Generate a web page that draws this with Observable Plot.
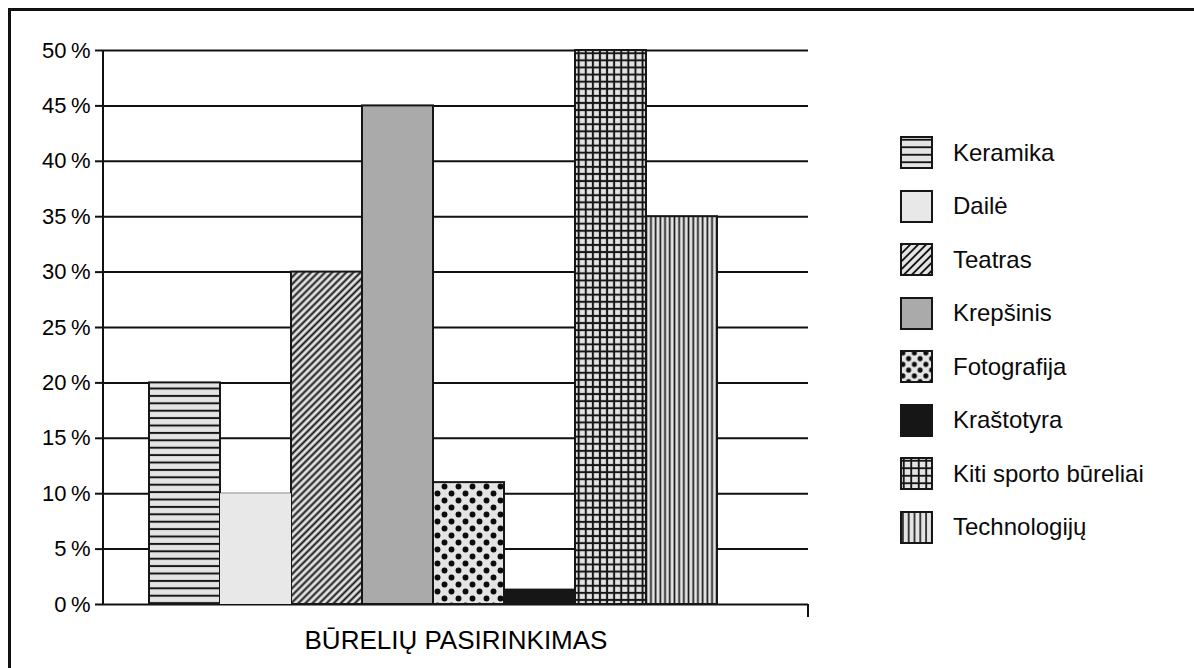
<!DOCTYPE html>
<html>
<head>
<meta charset="utf-8">
<script src="https://cdn.jsdelivr.net/npm/d3@7"></script>
<script src="https://cdn.jsdelivr.net/npm/@observablehq/plot@0.6"></script>
<style>
  body { margin: 0; background: #fff; font-family: "Liberation Sans", Arial, sans-serif; }
  #wrap { position: relative; width: 1194px; height: 668px; overflow: hidden; background: #fff; }
  #border { position: absolute; left: 8px; top: 8px; width: 1400px; height: 900px;
            border-top: 3px solid #111; border-left: 3px solid #111; pointer-events: none; }
  #chart { position: absolute; left: 0; top: 0; }
  #legend { position: absolute; left: 900px; top: 126px; }
  .item { display: flex; align-items: center; height: 53.5px; }
  .item svg { display: block; }
  .item span { margin-left: 20px; font-size: 24px; color: #0a0a0a; }
</style>
</head>
<body>
<div id="wrap">
  <div id="chart"></div>
  <div id="legend"></div>
  <div id="border"></div>
</div>
<script>
// ---- data ----
const clubs = ["Keramika", "Dailė", "Teatras", "Krepšinis", "Fotografija", "Kraštotyra", "Kiti sporto būreliai", "Technologijų"];
const shares = [20, 10, 30, 45, 11, 1.3, 50, 35];
const yTicks = [0, 5, 10, 15, 20, 25, 30, 35, 40, 45, 50];
const xLabel = "BŪRELIŲ PASIRINKIMAS";

const data = clubs.map((c, i) => ({ club: c, share: shares[i] }));

// ---- styles ----
const ink = "#161616";
const light = "#e4e4e4";
const fillKeys = ["kera", null, "teat", null, "foto", null, "kiti", "tech"];
const solid = { "Dailė": "#e8e8e8", "Krepšinis": "#aaaaaa", "Kraštotyra": "#161616" };
function fillFor(prefix, i) {
  return fillKeys[i] ? `url(#${prefix}${fillKeys[i]})` : solid[clubs[i]];
}

function addPatterns(svgSel, pre, sp) {
  const defs = svgSel.insert("defs", ":first-child");
  const base = (id, w, h) => {
    const p = defs.append("pattern").attr("id", pre + id)
      .attr("patternUnits", "userSpaceOnUse").attr("width", w).attr("height", h);
    p.append("rect").attr("width", w).attr("height", h).attr("fill", light);
    return p;
  };
  // horizontal lines
  let p = base("kera", 10, sp.kera);
  p.append("line").attr("x1", 0).attr("x2", 10).attr("y1", sp.kera / 2).attr("y2", sp.kera / 2)
    .attr("stroke", ink).attr("stroke-width", sp.w);
  // diagonal lines
  p = base("teat", sp.teat, 10).attr("patternTransform", "rotate(45)");
  p.append("line").attr("x1", sp.teat / 2).attr("x2", sp.teat / 2).attr("y1", 0).attr("y2", 10)
    .attr("stroke", ink).attr("stroke-width", sp.w);
  // dots
  p = base("foto", sp.foto, sp.foto);
  const r = sp.foto * sp.dot;
  [[0.25, 0.25], [0.75, 0.75]].forEach(([a, b]) =>
    p.append("circle").attr("cx", a * sp.foto).attr("cy", b * sp.foto).attr("r", r).attr("fill", "#0c0c0c"));
  // grid
  p = base("kiti", sp.kiti, sp.kiti);
  p.append("line").attr("x1", sp.kiti / 2).attr("x2", sp.kiti / 2).attr("y1", 0).attr("y2", sp.kiti)
    .attr("stroke", ink).attr("stroke-width", sp.w);
  p.append("line").attr("y1", sp.kiti / 2).attr("y2", sp.kiti / 2).attr("x1", 0).attr("x2", sp.kiti)
    .attr("stroke", ink).attr("stroke-width", sp.w);
  // vertical lines
  p = base("tech", sp.tech, 10);
  p.append("line").attr("x1", sp.tech / 2).attr("x2", sp.tech / 2).attr("y1", 0).attr("y2", 10)
    .attr("stroke", ink).attr("stroke-width", sp.w * 0.85);
}

const barFills = clubs.map((c, i) => fillFor("b-", i));

const chart = Plot.plot({
  width: 1194,
  height: 668,
  marginLeft: 103,
  marginRight: 386,
  marginTop: 50,
  marginBottom: 64,
  style: { fontFamily: "Liberation Sans, Arial, sans-serif", color: "#000", background: "transparent" },
  x: { type: "band", domain: clubs, paddingInner: 0, paddingOuter: 0.957, align: 0.338 },
  y: { domain: [0, 50] },
  color: { type: "ordinal", domain: clubs, range: barFills },
  marks: [
    Plot.gridY({ ticks: yTicks, stroke: "#111", strokeOpacity: 1, strokeWidth: 2 }),
    Plot.barY(data.filter(d => d.club !== "Dailė"), {
      x: "club", y: "share", fill: "club", stroke: ink, strokeWidth: 2
    }),
    Plot.barY(data.filter(d => d.club === "Dailė"), { x: "club", y: "share", fill: "club" }),
    Plot.axisY({
      ticks: yTicks, tickSize: 8, tickPadding: 5, strokeWidth: 2, stroke: "#111",
      tickFormat: d => `${d}\u2009%`, fontSize: 22, label: null
    }),
    Plot.axisX({
      ticks: [], tickSize: 0, label: xLabel, labelAnchor: "center", labelOffset: 44,
      labelArrow: "none", fontSize: 26
    })
  ]
});

document.getElementById("chart").appendChild(chart);

const svg = d3.select(chart);
addPatterns(svg, "b-", { kera: 7.4, teat: 5, foto: 14, kiti: 7.1, tech: 4.7, w: 2, dot: 0.21 });

// axis lines from the plot's scales
const xs = chart.scale("x"), ys = chart.scale("y");
const [x0, x1] = xs.range;
const y0 = ys.apply(0), yTop = ys.apply(50);
svg.append("line").attr("x1", x0).attr("x2", x0).attr("y1", yTop).attr("y2", y0)
  .attr("stroke", "#111").attr("stroke-width", 2);
svg.append("line").attr("x1", x1).attr("x2", x1).attr("y1", y0).attr("y2", y0 + 13)
  .attr("stroke", "#111").attr("stroke-width", 2);

// ---- legend ----
const legend = d3.select("#legend");
clubs.forEach((c, i) => {
  const row = legend.append("div").attr("class", "item");
  const s = row.append("svg").attr("width", 33).attr("height", 33);
  const pre = "l" + i + "-";
  addPatterns(s, pre, { kera: 7.5, teat: 5.6, foto: 11.5, kiti: 7.5, tech: 5.8, w: 1.9, dot: 0.22 });
  s.append("rect").attr("x", 1).attr("y", 1).attr("width", 31).attr("height", 31)
    .attr("fill", fillFor(pre, i)).attr("stroke", ink).attr("stroke-width", 2);
  row.append("span").text(c);
});
</script>
</body>
</html>
